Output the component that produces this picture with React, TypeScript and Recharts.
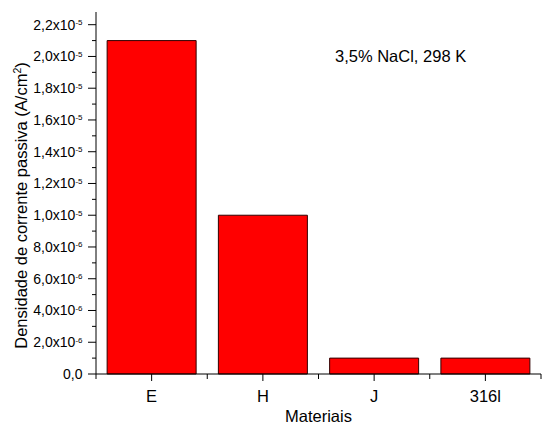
import React from "react";
import { BarChart, Bar, XAxis, YAxis } from "recharts";

const materials = ["E", "H", "J", "316l"];
const passiveCurrent = [2.1e-5, 1.0e-5, 1.0e-6, 1.0e-6];
const yMajorTicks = [0, 2e-6, 4e-6, 6e-6, 8e-6, 1e-5, 1.2e-5, 1.4e-5, 1.6e-5, 1.8e-5, 2e-5, 2.2e-5];
const yMinorTicks = [1e-6, 3e-6, 5e-6, 7e-6, 9e-6, 1.1e-5, 1.3e-5, 1.5e-5, 1.7e-5, 1.9e-5, 2.1e-5];

const data = materials.map((name, i) => ({ name, value: passiveCurrent[i] }));
const allTicks = [...yMajorTicks, ...yMinorTicks].sort((a, b) => a - b);

const FONT = "'Liberation Sans', Arial, sans-serif";

const isMajor = (v: number) => yMajorTicks.some((t) => Math.abs(t - v) < 1e-12);

const splitSci = (v: number) => {
  if (v === 0) return { mant: "0,0", exp: "" };
  const exp = Math.floor(Math.log10(v) + 1e-9);
  const mant = (v / Math.pow(10, exp)).toFixed(1).replace(".", ",");
  return { mant: mant + "x10", exp: String(exp) };
};

const YTick = (props: any) => {
  const { x, y, payload } = props;
  const major = isMajor(payload.value);
  if (!major) {
    return <line x1={x - 4} x2={x} y1={y} y2={y} stroke="#000" />;
  }
  const { mant, exp } = splitSci(payload.value);
  return (
    <g>
      <line x1={x - 8} x2={x} y1={y} y2={y} stroke="#000" />
      <text x={x - 13.5} y={y + 5} textAnchor="end" fontSize={14} fontFamily={FONT} fill="#000">
        <tspan>{mant}</tspan>
        {exp && (
          <tspan dy={-4.5} fontSize={8}>
            {exp}
          </tspan>
        )}
      </text>
    </g>
  );
};

const XTick = (props: any) => {
  const { x, y, payload, index } = props;
  const half = payload.offset || 55.5;
  return (
    <g>
      <line x1={x} x2={x} y1={y} y2={y + 7} stroke="#000" />
      <line x1={x - half} x2={x - half} y1={y} y2={y + 5} stroke="#000" />
      {index === materials.length - 1 && (
        <line x1={x + half} x2={x + half} y1={y} y2={y + 5} stroke="#000" />
      )}
      <text x={x} y={y + 28} textAnchor="middle" fontSize={16.5} fontFamily={FONT} fill="#000">
        {payload.value}
      </text>
    </g>
  );
};

export default function App() {
  return (
    <div style={{ position: "absolute", left: 0, top: 0, width: 542, height: 424, background: "#fff" }}>
      <BarChart
        width={542}
        height={424}
        data={data}
        margin={{ top: 12, right: 1, bottom: 20, left: 0 }}
        barCategoryGap="10%"
      >
        <XAxis
          dataKey="name"
          height={30}
          stroke="#000"
          tickLine={false}
          tickSize={0}
          tickMargin={0}
          tick={<XTick />}
          interval={0}
          label={{
            content: () => (
              <text x={318.5} y={422} textAnchor="middle" fontSize={16.5} fontFamily={FONT} fill="#000">
                Materiais
              </text>
            ),
          }}
        />
        <YAxis
          width={96}
          domain={[0, 2.28e-5]}
          ticks={allTicks}
          interval={0}
          stroke="#000"
          tickLine={false}
          tickSize={0}
          tickMargin={0}
          tick={<YTick />}
          label={{
            content: () => (
              <text
                x={27}
                y={205.5}
                transform="rotate(-90 27 205.5)"
                textAnchor="middle"
                fontSize={16.5}
                fontFamily={FONT}
                fill="#000"
              >
                Densidade de corrente passiva (A/cm
                <tspan dy={-6} fontSize={10.5}>2</tspan>
                <tspan dy={6}>)</tspan>
              </text>
            ),
          }}
        />
        <Bar dataKey="value" fill="#ff0000" stroke="#300000" strokeWidth={1} isAnimationActive={false} />
      </BarChart>
      <div
        style={{
          position: "absolute",
          left: 335,
          top: 47,
          fontSize: 16.5,
          fontFamily: FONT,
          color: "#000",
          whiteSpace: "nowrap",
        }}
      >
        3,5% NaCl, 298 K
      </div>
    </div>
  );
}
